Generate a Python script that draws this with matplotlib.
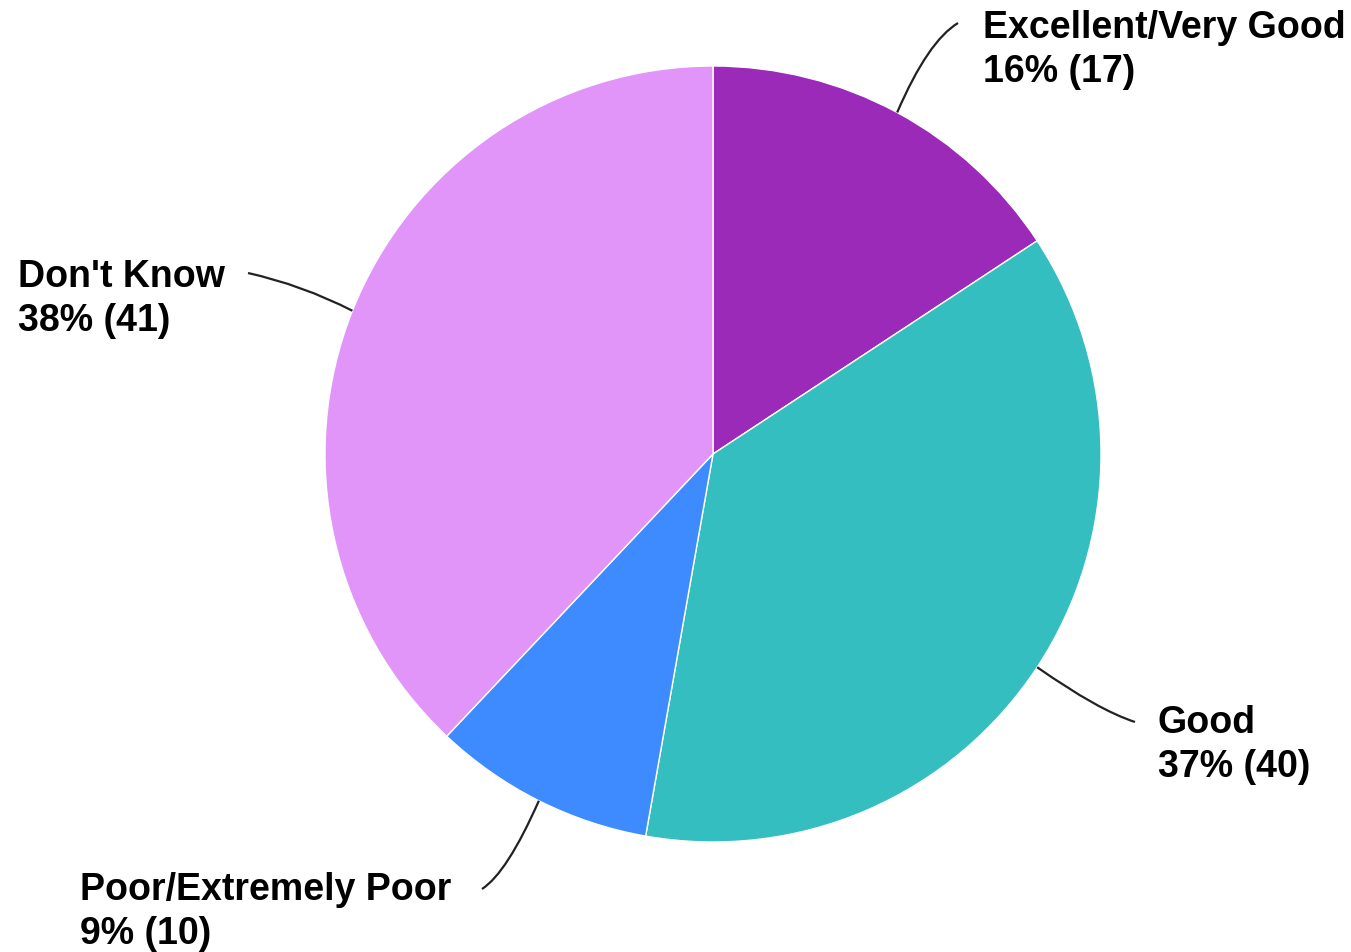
import numpy as np
import matplotlib
matplotlib.use('Agg')
import matplotlib.pyplot as plt
from matplotlib.path import Path
from matplotlib.patches import PathPatch

plt.rcParams['font.family'] = ['Liberation Sans', 'DejaVu Sans']

# data
categories = ['Excellent/Very Good', 'Good', 'Poor/Extremely Poor', "Don't Know"]
counts = [17, 40, 10, 41]
colors = ['#9B2AB9', '#35BEBF', '#3D8BFF', '#E295F9']

# layout, in pixels of the 1351x953 picture
W, H = 1351, 953
cx, cy, R = 713, 455, 388           # pie centre and radius
label_px = [(983, 38), (1158, 733), (80, 900), (18, 287)]      # left x, first baseline
leader_end_px = [(958, 24), (1135, 723), (482, 890), (248, 274)]
leader_ctrl_px = [(928, 42), (1098, 711), (507, 874), (302, 286)]
line_gap = 44


def to_data(px, py):
    return (px - cx) / R, (cy - py) / R


fig = plt.figure(figsize=(W / 100, H / 100), dpi=100)
ax = fig.add_axes([0, 0, 1, 1])

wedges, _ = ax.pie(counts, colors=colors, startangle=90, counterclock=False,
                   radius=1, center=(0, 0),
                   wedgeprops=dict(edgecolor='white', linewidth=1.0))

ax.set_xlim(-cx / R, (W - cx) / R)
ax.set_ylim(-(H - cy) / R, cy / R)
ax.set_aspect('auto')
ax.axis('off')

total = sum(counts)
for i, w in enumerate(wedges):
    mid = np.deg2rad((w.theta1 + w.theta2) / 2)
    start = (np.cos(mid), np.sin(mid))
    verts = [start, to_data(*leader_ctrl_px[i]), to_data(*leader_end_px[i])]
    path = Path(verts, [Path.MOVETO, Path.CURVE3, Path.CURVE3])
    ax.add_patch(PathPatch(path, fill=False, edgecolor='#222222', lw=1.6))

    lx, ly = label_px[i]
    pct = round(100 * counts[i] / total)
    ax.text(*to_data(lx, ly), categories[i], ha='left', va='baseline',
            fontsize=27, fontweight='bold', color='black')
    ax.text(*to_data(lx, ly + line_gap), f'{pct}% ({counts[i]})', ha='left',
            va='baseline', fontsize=27, fontweight='bold', color='black')

plt.savefig('out.png', dpi=100)
